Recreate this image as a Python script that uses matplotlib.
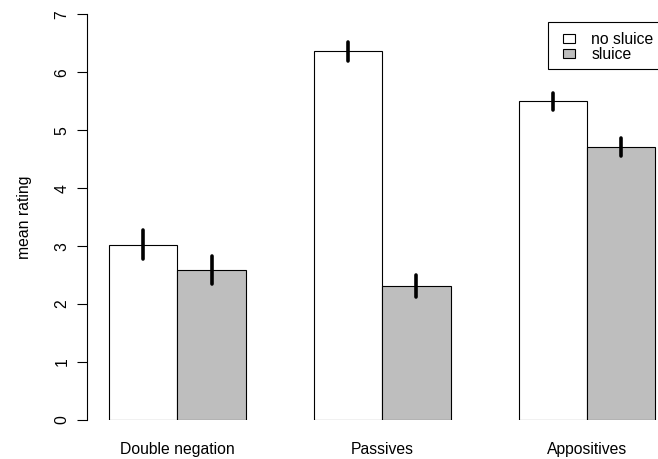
import matplotlib
matplotlib.use("Agg")
import matplotlib.pyplot as plt
from matplotlib.patches import Patch, Rectangle
import numpy as np

categories = ["Double negation", "Passives", "Appositives"]
series_names = ["no sluice", "sluice"]
no_sluice = [3.02, 6.36, 5.50]
no_sluice_lo = [2.77, 6.20, 5.35]
no_sluice_hi = [3.27, 6.52, 5.64]
sluice = [2.58, 2.31, 4.71]
sluice_lo = [2.35, 2.12, 4.56]
sluice_hi = [2.83, 2.51, 4.87]
yticks = [0, 1, 2, 3, 4, 5, 6, 7]

plt.rcParams['font.family'] = ['Liberation Sans', 'DejaVu Sans']
FS = 11.3

W, H = 658, 459
fig = plt.figure(figsize=(W / 100, H / 100), dpi=100)
ax = fig.add_axes([87.3 / W, (H - 420) / H, (677.3 - 87.3) / W, (420 - 14.3) / H])
ax.set_xlim(-0.32, 8.32)
ax.set_ylim(0, 7)

groups = np.arange(len(categories)) * 3
left_x = groups + 0.5
right_x = groups + 1.5
ax.bar(left_x, no_sluice, width=1.0, color="white", edgecolor="black", linewidth=0.8, zorder=2)
ax.bar(right_x, sluice, width=1.0, color="#BEBEBE", edgecolor="black", linewidth=0.8, zorder=2)

for x, lo, hi in zip(left_x, no_sluice_lo, no_sluice_hi):
    ax.plot([x, x], [lo, hi], color="black", lw=2.6, solid_capstyle="round", zorder=3, clip_on=False)
for x, lo, hi in zip(right_x, sluice_lo, sluice_hi):
    ax.plot([x, x], [lo, hi], color="black", lw=2.6, solid_capstyle="round", zorder=3, clip_on=False)

for s in ["top", "right", "bottom"]:
    ax.spines[s].set_visible(False)
ax.spines["left"].set_bounds(0, 7)
ax.spines["left"].set_linewidth(0.8)
ax.set_yticks(yticks)
ax.set_yticklabels([str(t) for t in yticks], rotation=90, va="center", fontsize=FS)
ax.tick_params(axis="y", length=7.2, width=0.8, pad=5.5)
ax.set_xticks(groups + 1.0)
ax.set_xticklabels(categories, fontsize=FS)
ax.tick_params(axis="x", length=0, pad=16)
ax.set_ylabel("mean rating", fontsize=FS, labelpad=16)

# legend box (extends past the right edge, as in the reference)
box = Rectangle((548.3 / W, 1 - 69.3 / H), (690 - 548.3) / W, (69.3 - 22.3) / H,
                transform=fig.transFigure, facecolor="white", edgecolor="black",
                linewidth=0.8, zorder=4, clip_on=False)
ax.add_patch(box)
handles = [Patch(facecolor="white", edgecolor="black", linewidth=0.8),
           Patch(facecolor="#BEBEBE", edgecolor="black", linewidth=0.8)]
leg = ax.legend(handles, series_names, loc="upper left",
                bbox_to_anchor=(563.3 / W, 1 - 32 / H), bbox_transform=fig.transFigure,
                borderaxespad=0, fontsize=FS, frameon=False,
                handlelength=0.76, handleheight=0.51,
                handletextpad=1.02, labelspacing=0.0, borderpad=0)
leg.set_zorder(5)

fig.savefig("out.png", dpi=100)
